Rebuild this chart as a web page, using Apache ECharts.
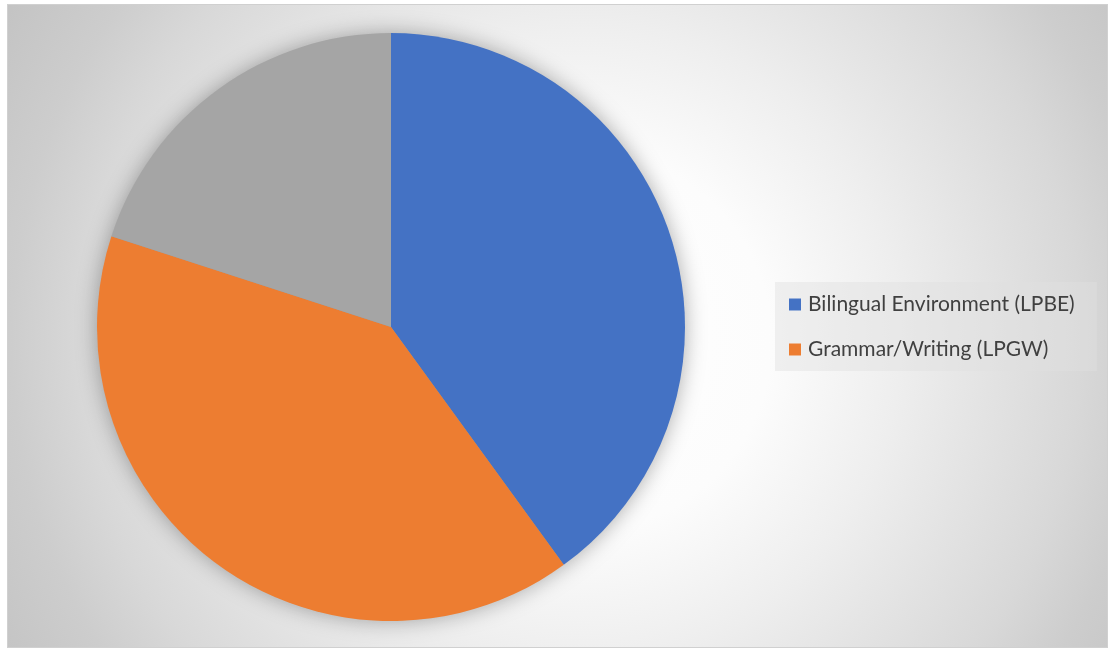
<!DOCTYPE html>
<html>
<head>
<meta charset="utf-8">
<script src="https://cdn.jsdelivr.net/npm/echarts@6/dist/echarts.min.js"></script>
<style>
html,body{margin:0;padding:0;background:#fff;}
#frame{position:absolute;left:7px;top:4px;width:1099px;height:642px;border:1px solid #d0d0d0;
background:radial-gradient(circle 680px at 573px 336px, #ffffff 0px, #fcfcfc 190px, #eeeeee 320px, #e6e6e6 385px, #d8d8d8 500px, #cdcdcd 570px, #c2c2c2 680px);}
#chart{position:absolute;left:0;top:0;width:1110px;height:650px;}
</style>
</head>
<body>
<div id="frame"></div>
<div id="chart"></div>
<script>
const categories = ['Bilingual Environment (LPBE)', 'Grammar/Writing (LPGW)', 'Other'];
const values = [40, 40, 20];
const legendItems = ['Bilingual Environment (LPBE)', 'Grammar/Writing (LPGW)'];
const colors = ['#4472C4', '#ED7D31', '#A5A5A5'];

const chart = echarts.init(document.getElementById('chart'), null, {renderer: 'canvas'});
chart.setOption({
  backgroundColor: 'transparent',
  animation: false,
  color: colors,
  legend: {
    data: legendItems,
    orient: 'vertical',
    left: 775,
    top: 282,
    padding: [12, 22, 11, 14],
    itemGap: 24,
    itemWidth: 12,
    itemHeight: 12,
    icon: 'rect',
    backgroundColor: 'rgba(225,225,225,0.45)',
    textStyle: {fontFamily: 'Lato', fontSize: 21, color: '#404040', padding: [0, 0, 0, 2]}
  },
  series: [{
    type: 'pie',
    silent: true,
    center: [391, 327],
    radius: 293,
    label: {show: false},
    labelLine: {show: false},
    itemStyle: {color: '#999', shadowBlur: 22, shadowColor: 'rgba(0,0,0,0.35)'},
    data: [{name: 'shadow', value: 1}]
  }, {
    type: 'pie',
    center: [391, 327],
    radius: 294,
    startAngle: 90,
    clockwise: true,
    label: {show: false},
    labelLine: {show: false},
    emphasis: {disabled: true},
    itemStyle: {borderWidth: 0},
    data: categories.map((c, i) => ({name: c, value: values[i]}))
  }]
});
</script>
</body>
</html>
